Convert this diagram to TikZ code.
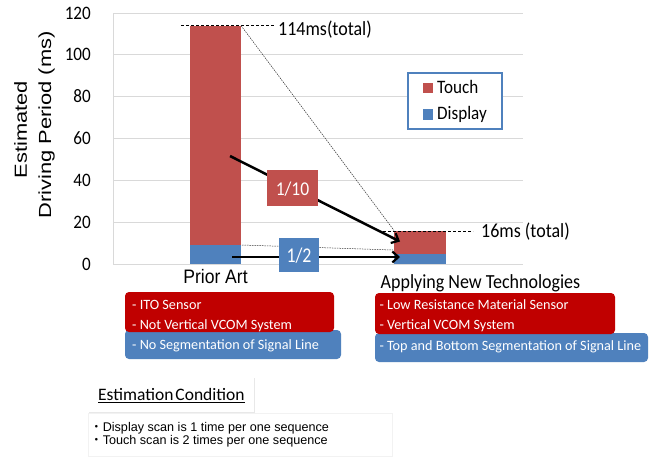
\documentclass[tikz,border=0pt]{standalone}
\usepackage{fontspec}
\setmainfont{Carlito}
\newfontfamily\chartfont[FakeStretch=0.9]{Carlito}
\newfontfamily\chartfontn[FakeStretch=0.85]{Carlito}
\newfontfamily\arialc[FakeStretch=0.9]{Liberation Sans}
\newfontfamily\arialw[FakeStretch=1.25]{Liberation Sans}
\newfontfamily\arialn{Liberation Sans}
\newfontfamily\cjk{Noto Sans CJK JP}
\usetikzlibrary{arrows.meta,shadows}
\definecolor{touchred}{HTML}{C0504D}
\definecolor{dispblue}{HTML}{4F81BD}
\definecolor{boxred}{HTML}{C00000}
\definecolor{gridgray}{HTML}{D9D9D9}
\newcommand\setfsz[1]{\fontsize{#1}{#1}\selectfont}
\tikzset{
  ticklab/.style={anchor=base east,inner sep=0pt,font=\chartfont\setfsz{19}},
  catlab/.style={anchor=base,inner sep=0pt},
  boxtxt/.style={anchor=base west,inner sep=0pt,text=white,font=\setfsz{14.2}},
  guide/.style={black,line width=0.6pt,dash pattern=on 3pt off 2pt},
  fineguide/.style={black!80,line width=0.5pt,dash pattern=on 1.5pt off 1pt},
  bigarrow/.style={line width=2.5pt,-{Straight Barb[length=6pt,width=11pt,line width=2.2pt]}},
  ratiobox/.style={inner sep=0pt,text=white},
  infobox/.style={rounded corners=4pt},
  condtxt/.style={anchor=base west,inner sep=0pt,font=\arialn\setfsz{12.6}},
}
\begin{document}
\begin{tikzpicture}[x=1pt,y=-1pt]
\useasboundingbox[fill=white] (0,0) rectangle (653,459);
% grid
\foreach \v in {0,20,...,120}{
  \draw[gridgray,line width=1pt] (113,{264-2.0917*\v}) -- (523,{264-2.0917*\v});
  \node[ticklab] at (91,{264-2.0917*\v+6}) {\v};
}
\draw[gridgray,line width=1pt] (113,13) -- (113,264);
% axis title
\node[rotate=90,anchor=base,inner sep=0pt,font=\arialw\setfsz{17.5}] (t1) at (27,129.5) {Estimated};
\node[rotate=90,anchor=base,inner sep=0pt,font=\arialw\setfsz{17.5}] (t2) at (51,125) {Driving Period (ms)};
% bars
\fill[dispblue] (190,264) rectangle (241,245.2);
\fill[touchred] (190,245.2) rectangle (241,25.5);
\fill[dispblue] (394,264) rectangle (446,253.5);
\fill[touchred] (394,253.5) rectangle (446,230.5);
\coordinate (pa114) at (241,25.5);
\coordinate (na16) at (394,230.5);
\coordinate (pa9) at (242,245);
\coordinate (na5) at (393,250);
% guides
\draw[guide] (181,25) -- (275,25);
\draw[guide] (383,231) -- (473,231);
\draw[fineguide] (pa114) -- (na16);
\draw[fineguide] (pa9) -- (na5);
\node[anchor=base west,inner sep=0pt,font=\chartfont\setfsz{20}] (tot1) at (278,35) {114ms(total)};
\node[anchor=base west,inner sep=0pt,font=\chartfont\setfsz{20}] (tot2) at (481,237) {16ms (total)};
% category labels
\node[catlab,font=\arialc\setfsz{19.5}] (cat1) at (215.5,283) {Prior Art};
\node[catlab,font=\chartfont\setfsz{20}] (cat2) at (480.5,288) {Applying New Technologies};
% arrows
\coordinate (a1s) at (230,156);
\coordinate (a1e) at (400,241.5);
\coordinate (a2s) at (232,257);
\coordinate (a2e) at (400,257);
\draw[bigarrow] (a1s) -- (a1e);
\draw[bigarrow] (a2s) -- (a2e);
\fill[touchred] (267,170) rectangle (318,206);
\node[ratiobox,anchor=base,font=\chartfont\setfsz{19.5}] (r1) at (292.5,195) {1/10};
\fill[dispblue] (279,238) rectangle (319,272);
\node[ratiobox,anchor=base,font=\chartfontn\setfsz{21}] (r2) at (299,262) {1/2};
% legend
\draw[dispblue,line width=1.2pt,fill=white] (408,73) rectangle (502,129);
\fill[touchred] (423,83) rectangle (433,93);
\fill[dispblue] (423,109) rectangle (433,120);
\node[anchor=base west,inner sep=0pt,font=\chartfont\setfsz{19}] (lg1) at (437,93) {Touch};
\node[anchor=base west,inner sep=0pt,font=\chartfont\setfsz{19}] (lg2) at (437,119) {Display};
% info boxes
\fill[infobox,dispblue] (125,330) rectangle (341,359);
\fill[infobox,boxred] (125,292) rectangle (334,332);
\node[boxtxt] (p1) at (132,309) {- ITO Sensor};
\node[boxtxt] (p2) at (132,329) {- Not Vertical VCOM System};
\node[boxtxt] (p3) at (132,349.3) {- No Segmentation of Signal Line};
\fill[infobox,dispblue] (375,333) rectangle (648,362);
\fill[infobox,boxred] (375,293) rectangle (615,334);
\node[boxtxt] (n1) at (379.3,309.3) {- Low Resistance Material Sensor};
\node[boxtxt] (n2) at (379.3,329.3) {- Vertical VCOM System};
\node[boxtxt] (n3) at (379.3,350.7) {- Top and Bottom Segmentation of Signal Line};
% estimation condition
\draw[black!5,line width=0.6pt] (88,413) rectangle (392,456);
\fill[white,drop shadow={shadow xshift=1pt,shadow yshift=-1.2pt,opacity=0.18}] (88,377) rectangle (254,412);
\node[anchor=base west,inner sep=0pt,font=\setfsz{17.5}] (ec) at (98,400.7) {\underline{Estimation\hspace{2pt}Condition}};
\node[condtxt] (c1) at (90,431.5) {{\cjk ・}Display scan is 1 time per one sequence};
\node[condtxt] (c2) at (90,444.5) {{\cjk ・}Touch scan is 2 times per one sequence};
\end{tikzpicture}
\end{document}
